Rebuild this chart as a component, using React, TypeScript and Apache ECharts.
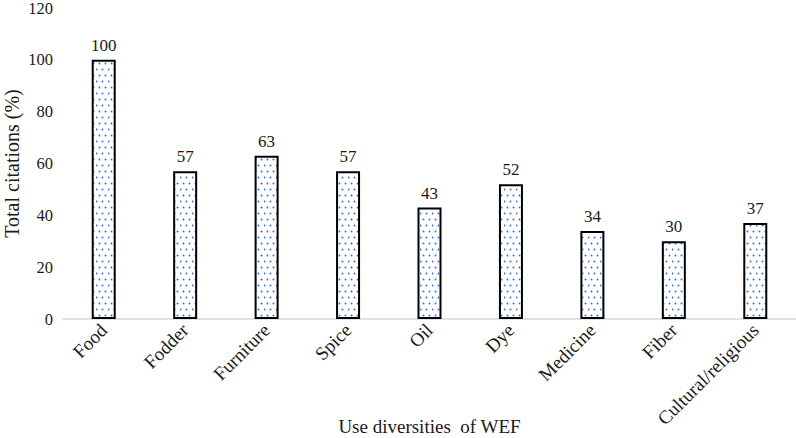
import React, { useEffect, useRef } from "react";
import * as echarts from "echarts";

const categories = ["Food", "Fodder", "Furniture", "Spice", "Oil", "Dye", "Medicine", "Fiber", "Cultural/religious"];
const values = [100, 57, 63, 57, 43, 52, 34, 30, 37];
const yTicks = [0, 20, 40, 60, 80, 100, 120];

function makePattern(): HTMLCanvasElement {
  const c = document.createElement("canvas");
  c.width = 12;
  c.height = 12;
  const ctx = c.getContext("2d")!;
  ctx.fillStyle = "#ffffff";
  ctx.fillRect(0, 0, 12, 12);
  ctx.fillStyle = "#3a6fd6";
  const dots = [
    [3, 3],
    [9, 3],
    [6, 9],
    [0, 9],
  ];
  for (const [x, y] of dots) {
    ctx.beginPath();
    ctx.arc(x + 0.5, y + 0.5, 1.0, 0, Math.PI * 2);
    ctx.fill();
  }
  return c;
}

export default function App() {
  const ref = useRef<HTMLDivElement>(null);
  useEffect(() => {
    document.body.style.margin = "0";
    const chart = echarts.init(ref.current!, null, { renderer: "svg" });
    const font = "Liberation Serif";
    chart.setOption({
      animation: false,
      textStyle: { fontFamily: font },
      grid: { left: 63, right: 0, top: 8, bottom: 119, containLabel: false, outerBoundsMode: "none" },
      xAxis: {
        type: "category",
        data: categories,
        name: "Use diversities\u00a0 of WEF",
        nameLocation: "middle",
        nameGap: 98,
        nameMoveOverlap: false,
        nameTextStyle: { fontFamily: font, fontSize: 19, color: "#1a1a1a" },
        axisLine: { lineStyle: { color: "#d9d9d9", width: 1.5 } },
        axisTick: { show: false },
        axisLabel: { rotate: 45, fontFamily: font, fontSize: 19, color: "#1a1a1a", margin: 8, interval: 0 },
      },
      yAxis: {
        type: "value",
        min: yTicks[0],
        max: yTicks[yTicks.length - 1],
        interval: 20,
        name: "Total citations (%)",
        nameLocation: "middle",
        nameGap: 41,
        nameMoveOverlap: false,
        nameRotate: 90,
        nameTextStyle: { fontFamily: font, fontSize: 20, color: "#1a1a1a" },
        axisLine: { show: false },
        axisTick: { show: false },
        splitLine: { show: false },
        axisLabel: { fontFamily: font, fontSize: 16.5, color: "#1a1a1a", margin: 10 },
      },
      series: [
        {
          type: "bar",
          data: values,
          barWidth: 24,
          itemStyle: {
            color: { image: makePattern(), repeat: "repeat" },
            borderColor: "#000000",
            borderWidth: 2,
          },
          label: {
            show: true,
            position: "top",
            distance: 6,
            fontFamily: font,
            fontSize: 17,
            color: "#1a1a1a",
          },
        },
      ],
    });
    return () => chart.dispose();
  }, []);
  return <div ref={ref} style={{ position: "absolute", left: 0, top: 0, width: 796, height: 438 }} />;
}
